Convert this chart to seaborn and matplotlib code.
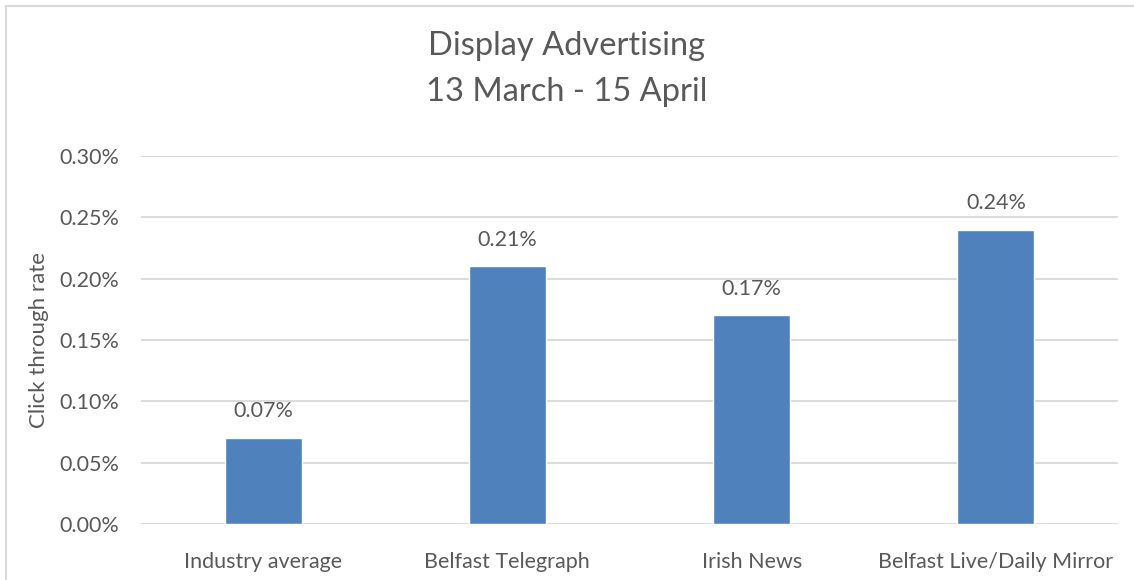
import pandas as pd
import seaborn as sns
import matplotlib.pyplot as plt
from matplotlib.lines import Line2D
from matplotlib.ticker import FuncFormatter

# Chart data (click through rate, in percent)
outlets = ["Industry average", "Belfast Telegraph", "Irish News", "Belfast Live/Daily Mirror"]
ctr = [0.07, 0.21, 0.17, 0.24]
y_ticks = [0.00, 0.05, 0.10, 0.15, 0.20, 0.25, 0.30]

title = "Display Advertising\n13 March - 15 April"
y_label = "Click through rate"

text_grey = "#595959"
grid_grey = "#D9D9D9"
bar_blue = "#4F81BD"

df = pd.DataFrame({"outlet": outlets, "ctr": ctr})

sns.set_style("white")
plt.rcParams["font.family"] = ["Lato", "DejaVu Sans"]

fig = plt.figure(figsize=(11.34, 5.8), dpi=100)
ax = fig.add_axes([141 / 1134, 56 / 580, 977 / 1134, 368 / 580])

sns.barplot(data=df, x="outlet", y="ctr", color=bar_blue, width=0.315,
            saturation=1, ax=ax)

ax.set_ylim(0, 0.30)
ax.set_xlim(-0.5, 3.5)
ax.set_yticks(y_ticks)
ax.yaxis.set_major_formatter(FuncFormatter(lambda v, p: f"{v:.2f}%"))
ax.yaxis.grid(True, color=grid_grey, linewidth=1.3)
ax.set_axisbelow(True)
for s in ax.spines.values():
    s.set_visible(False)
ax.tick_params(axis="y", length=0, pad=16, labelsize=15.5, labelcolor=text_grey)
ax.tick_params(axis="x", length=0, pad=20, labelsize=15.5, labelcolor=text_grey)
ax.set_xlabel("")
ax.set_ylabel(y_label, fontsize=16, color=text_grey, labelpad=7)

for c in ax.containers:
    ax.bar_label(c, labels=[f"{v:.2f}%" for v in ctr], padding=12,
                 fontsize=15.5, color=text_grey)

fig.text(0.5, 1 - 69 / 580, title, ha="center", va="center", fontsize=23.5,
         color=text_grey, linespacing=1.65)

# chart border (top and left edges visible)
fig.add_artist(Line2D([6 / 1134, 1.0], [574 / 580, 574 / 580], color=grid_grey,
                      linewidth=1.5, transform=fig.transFigure))
fig.add_artist(Line2D([6 / 1134, 6 / 1134], [0, 574 / 580], color=grid_grey,
                      linewidth=1.5, transform=fig.transFigure))

fig.savefig("out.png", dpi=100, facecolor="white")
